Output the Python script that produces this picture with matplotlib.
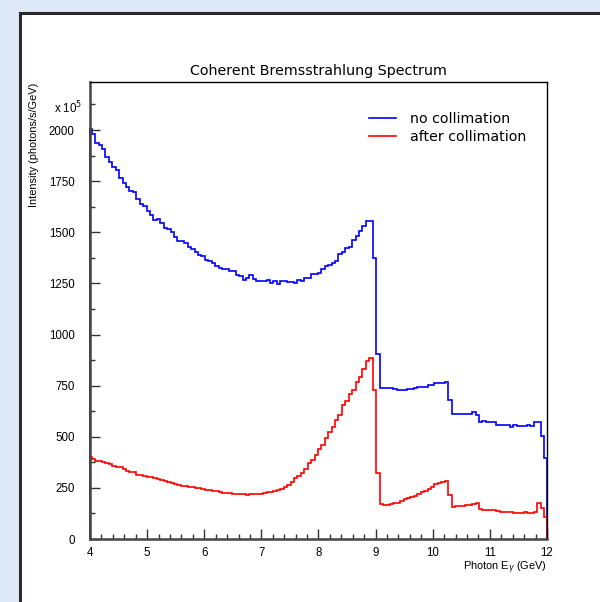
import numpy as np
import matplotlib
matplotlib.use("Agg")
import matplotlib.pyplot as plt
from matplotlib.lines import Line2D
from matplotlib.patches import Rectangle

# ---- data ----
bin_edges = np.concatenate([[4.0], 4.03 + 0.06 * np.arange(133), [12.0]])

no_collimation = [
    2004, 1980, 1939, 1926, 1907, 1869, 1846, 1817, 1804, 1765,
    1741, 1720, 1700, 1695, 1663, 1638, 1630, 1606, 1585, 1560,
    1565, 1544, 1521, 1516, 1500, 1479, 1459, 1456, 1446, 1430,
    1419, 1402, 1391, 1386, 1365, 1362, 1349,
    1333, 1326, 1321, 1321, 1310, 1313, 1292, 1284, 1269, 1277,
    1290, 1272, 1261, 1261, 1262, 1269, 1251, 1264, 1245, 1264,
    1262, 1259, 1259, 1254, 1269, 1264, 1275, 1276, 1297, 1297,
    1300, 1321, 1333, 1341, 1349, 1362, 1394, 1402, 1422, 1427,
    1463, 1484, 1508, 1530, 1557, 1557,
    1373, 906,
    740, 737, 737, 737, 732, 727, 730, 730, 735, 732,
    738, 741, 745, 745, 751, 751, 761, 761, 761, 766,
    680, 611, 612, 610, 609, 611, 613, 619, 606, 574,
    575, 573, 572, 574, 557, 558, 556, 557, 549, 556,
    553, 555, 552, 556, 554, 572, 572, 504, 395,
]

after_collimation = [
    399, 391, 381, 383, 378, 370, 365, 358, 354, 351,
    342, 334, 329, 326, 313, 311, 310, 305, 302, 297,
    293, 288, 284, 280, 275, 269, 266, 261, 257, 255,
    253, 250, 248, 244, 242, 238, 235, 233, 230, 227,
    224, 223, 222, 220, 220, 219, 214, 218, 220, 219,
    220, 224, 228, 232, 236, 240,
    246, 256, 264, 277, 297, 308, 324, 341, 370, 386,
    411, 439, 460, 495, 525, 549, 582, 606, 655, 675,
    708, 729, 766, 794, 830, 870, 884, 729, 321, 171,
    166, 168, 172, 175, 178, 187, 194, 199, 204, 212,
    220, 230, 235, 243, 256, 269, 275, 280, 285, 215,
    158, 159, 160, 162, 164, 166, 171, 178, 145, 143,
    142, 141, 140, 136, 134, 133, 132, 130, 129, 128,
    129, 130, 129, 128, 130, 175, 150, 109,
]

series_labels = ["no collimation", "after collimation"]
series_colors = ["#0000ff", "#ff0000"]
y_ticks = [0, 250, 500, 750, 1000, 1250, 1500, 1750, 2000]
x_ticks = [4, 5, 6, 7, 8, 9, 10, 11, 12]

# ---- figure ----
plt.rcParams['font.family'] = ['Liberation Sans', 'DejaVu Sans']
fig = plt.figure(figsize=(6.0, 6.02), dpi=100)
fig.patch.set_facecolor("#dde9f6")

# white panel with dark border
panel = Rectangle((20 / 600, -0.05), 1.0, 1 - 13 / 602 + 0.05, transform=fig.transFigure,
                  facecolor="white", edgecolor="#2a2a2a", linewidth=2.2, zorder=-5)
fig.patches.append(panel)

ax = fig.add_axes([90 / 600, 1 - 539 / 602, (547 - 90) / 600, (539 - 82) / 602])
ax.set_zorder(2)
ax.set_facecolor("white")

for vals, col in zip([no_collimation, after_collimation], series_colors):
    ax.stairs(vals, bin_edges, baseline=0, color=col, linewidth=1.2, clip_on=False)

ax.set_xlim(4, 12)
ax.set_ylim(0, 2235)

ax.set_xticks(x_ticks)
ax.set_xticks(np.arange(4, 12.01, 0.2), minor=True)
ax.set_yticks(y_ticks)
ax.set_yticks(np.arange(0, 2235, 125), minor=True)

ax.tick_params(axis='both', which='both', direction='in', top=False, right=False,
               labelsize=8.3, color="#333333")
ax.tick_params(axis='both', which='major', length=7.2, width=1.0)
ax.tick_params(axis='both', which='minor', length=3.6, width=1.0)
ax.tick_params(axis='y', which='major', pad=11)
ax.tick_params(axis='x', which='major', pad=5.5)

for s in ['top', 'right']:
    ax.spines[s].set_linewidth(1.0)
    ax.spines[s].set_color("black")
ax.spines['bottom'].set_linewidth(1.8)
ax.spines['bottom'].set_color("#444444")
ax.spines['left'].set_linewidth(1.8)
ax.spines['left'].set_color("#444444")

fig.text(318 / 600, 1 - 71 / 602, "Coherent Bremsstrahlung Spectrum",
         ha='center', va='center', fontsize=10.3, family=['DejaVu Sans'])

fig.text(34 / 600, 1 - 83 / 602, "Intensity (photons/s/GeV)", rotation=90,
         ha='center', va='top', fontsize=7.9)
fig.text(547 / 600, 1 - 568 / 602, r"Photon E$_\gamma$ (GeV)",
         ha='right', va='center', fontsize=7.9)
fig.text(82 / 600, 1 - 108 / 602, r"x 10$^{5}$", ha='right', va='center', fontsize=8.3)

handles = [Line2D([], [], color=c, linewidth=1.2) for c in series_colors]
ax.legend(handles, series_labels, loc='upper left',
          bbox_to_anchor=((369 - 90) / 457, (539 - 112) / 457),
          frameon=False, prop={'family': 'DejaVu Sans', 'size': 10.2},
          handlelength=1.9, handletextpad=1.0,
          labelspacing=0.3, borderpad=0, borderaxespad=0)

fig.savefig("out.png", dpi=100, facecolor=fig.get_facecolor())
